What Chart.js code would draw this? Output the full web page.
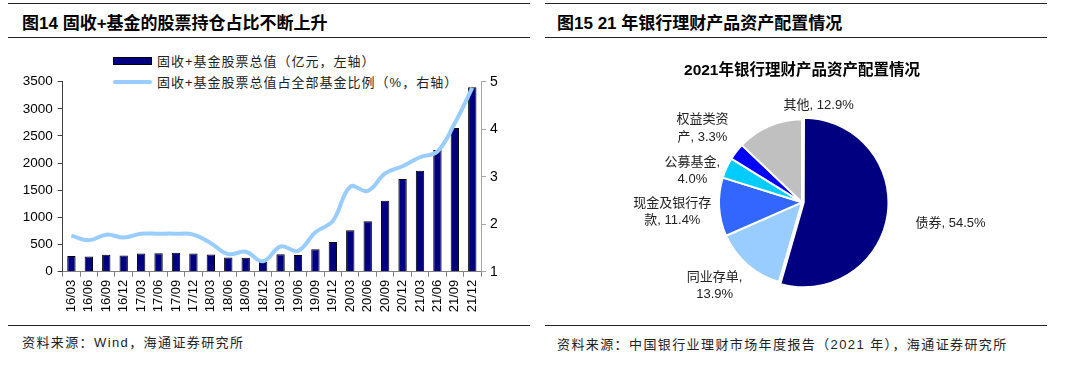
<!DOCTYPE html>
<html>
<head>
<meta charset="utf-8">
<script src="https://cdn.jsdelivr.net/npm/chart.js@4.4.1/dist/chart.umd.min.js"></script>
<style>
  body { margin: 0; width: 1080px; height: 369px; background: #fff; position: relative; overflow: hidden;
         font-family: "Liberation Sans", "Noto Sans CJK SC", sans-serif; color: #000; }
  .rule { position: absolute; height: 0; border-top: 1.5px solid #222; }
  .head { position: absolute; top: 9px; font-size: 17px; font-weight: bold; white-space: nowrap; }
  .src { position: absolute; font-size: 13px; color: #222; white-space: nowrap; letter-spacing: 1.4px; }
  .legend { position: absolute; left: 113px; top: 50px; font-size: 13px; color: #222; letter-spacing: 1px; }
  .legend div { height: 21px; display: flex; align-items: center; white-space: nowrap; }
  .legend span.sw { display: inline-block; width: 39px; margin-right: 5px; box-sizing: border-box; }
  canvas { position: absolute; }
</style>
</head>
<body>

<div class="rule" style="left:8px; top:3px; width:522px;"></div>
<div class="head" style="left:22px;">图14 固收+基金的股票持仓占比不断上升</div>
<div class="rule" style="left:8px; top:37px; width:522px;"></div>

<div class="rule" style="left:545px; top:3px; width:502px;"></div>
<div class="head" style="left:557px;">图15 21 年银行理财产品资产配置情况</div>
<div class="rule" style="left:545px; top:37px; width:502px;"></div>

<div class="legend" id="legend"></div>
<canvas id="barChart" width="530" height="285" style="left:0; top:40px;"></canvas>
<canvas id="pieChart" width="540" height="280" style="left:540px; top:40px;"></canvas>

<div class="rule" style="left:8px; top:325px; width:522px; border-top-width:1px;"></div>
<div class="src" style="left:22px; top:332px;">资料来源：Wind，海通证券研究所</div>
<div class="rule" style="left:545px; top:325px; width:502px; border-top-width:1px;"></div>
<div class="src" style="left:557px; top:334px;">资料来源：中国银行业理财市场年度报告（2021 年），海通证券研究所</div>

<script>
"use strict"

// Data

const quarters = ['16/03', '16/06', '16/09', '16/12', '17/03', '17/06', '17/09', '17/12',
                  '18/03', '18/06', '18/09', '18/12', '19/03', '19/06', '19/09', '19/12',
                  '20/03', '20/06', '20/09', '20/12', '21/03', '21/06', '21/09', '21/12'];
const stockValue = [290, 280, 310, 298, 335, 338, 350, 336, 318, 262, 255, 180,
                    320, 308, 412, 547, 762, 928, 1308, 1707, 1860, 2241, 2646, 3396];
const stockShare = [1.76, 1.66, 1.78, 1.72, 1.80, 1.80, 1.80, 1.78, 1.60, 1.37, 1.42, 1.22,
                    1.53, 1.44, 1.83, 2.07, 2.79, 2.70, 3.07, 3.22, 3.41, 3.53, 4.13, 4.87];
const barLabel = '固收+基金股票总值（亿元，左轴）';
const lineLabel = '固收+基金股票总值占全部基金比例（%，右轴）';

const assetNames = ['债券', '同业存单', '现金及银行存款', '公募基金', '权益类资产', '其他'];
const assetShare = [54.5, 13.9, 11.4, 4.0, 3.3, 12.9];
const assetColors = ['#000080', '#99CCFF', '#3366FF', '#00CCFF', '#0000FF', '#C0C0C0'];

const FONT = '"Liberation Sans", "Noto Sans CJK SC", sans-serif';


// Legend (left chart)

document.getElementById('legend').innerHTML =
    `<div><span class="sw" style="height:8px;background:#000080;border:1px solid #000"></span>${barLabel}</div>` +
    `<div><span class="sw" style="height:4px;background:#99CCFF;border-radius:2px"></span>${lineLabel}</div>`;


// Bar + Line chart

const barCtx = document.getElementById('barChart').getContext('2d');

const barChart = new Chart(barCtx, {
    data: {
        labels: quarters,
        datasets: [
            {
                type: 'bar',
                label: barLabel,
                data: stockValue,
                backgroundColor: '#000080',
                borderColor: '#000',
                borderWidth: 1,
                barPercentage: 0.48,
                categoryPercentage: 1,
                yAxisID: 'y',
                order: 1,
            },
            {
                type: 'line',
                label: lineLabel,
                data: stockShare,
                borderColor: '#99CCFF',
                borderWidth: 4,
                tension: 0.4,
                pointRadius: 0,
                yAxisID: 'y1',
                order: 0,
            }
        ],
    },
    options: {
        responsive: false,
        animation: false,
        layout: { padding: { top: 41.7, left: 0, right: 0, bottom: 0 } },
        plugins: {
            legend: { display: false },
            tooltip: { enabled: false },
        },
        scales: {
            x: {
                offset: true,
                grid: { display: true, drawOnChartArea: false, offset: true, tickLength: 5, color: '#808080' },
                border: { color: '#808080' },
                ticks: { minRotation: 90, maxRotation: 90, autoSkip: false, padding: 3,
                         color: '#000', font: { family: FONT, size: 13 } },
                afterFit(scale) { scale.height = 53.3; },
            },
            y: {
                position: 'left',
                min: 0,
                max: 3500,
                grid: { drawOnChartArea: false, tickLength: 5, color: '#404040' },
                border: { color: '#404040' },
                ticks: { stepSize: 500, padding: 5, color: '#000', font: { family: FONT, size: 13.5 },
                         callback: (v) => String(v) },
                afterFit(scale) { scale.width = 62.7; },
            },
            y1: {
                position: 'right',
                min: 1,
                max: 5,
                grid: { drawOnChartArea: false, tickLength: 5, color: '#a6a6a6' },
                border: { color: '#a6a6a6' },
                ticks: { stepSize: 1, padding: 4, color: '#000', font: { family: FONT, size: 14 } },
                afterFit(scale) { scale.width = 49; },
            }
        }
    }
});


// Pie chart

// label placement: distance from centre, turn (deg) off the mid angle, wrap position
const labelDist = [150, 121, 130, 114, 124, 98];
const labelTurn = [0, 5, -1, -8.5, -1, 33];
const labelWrap = [0, 5, 6, 5, 4, 0];

const pieLabels = {
    id: 'pieLabels',
    afterDatasetsDraw(chart) {
        const ctx = chart.ctx;
        const arcs = chart.getDatasetMeta(0).data;
        ctx.save();
        ctx.font = `13px ${FONT}`;
        ctx.fillStyle = '#222';
        ctx.textAlign = 'center';
        ctx.textBaseline = 'middle';
        arcs.forEach((arc, i) => {
            const p = arc.getProps(['x', 'y', 'startAngle', 'endAngle']);
            const mid = (p.startAngle + p.endAngle) / 2 + labelTurn[i] * Math.PI / 180;
            const lx = p.x + Math.cos(mid) * labelDist[i];
            const ly = p.y + Math.sin(mid) * labelDist[i];
            const text = `${assetNames[i]}, ${assetShare[i].toFixed(1)}%`;
            const lines = labelWrap[i] ? [text.slice(0, labelWrap[i]), text.slice(labelWrap[i]).trim()] : [text];
            const lh = 17.4;
            lines.forEach((line, k) => {
                ctx.fillText(line, lx, ly + (k - (lines.length - 1) / 2) * lh);
            });
        });
        ctx.restore();
    }
};

const pieCtx = document.getElementById('pieChart').getContext('2d');

const pieChart = new Chart(pieCtx, {
    type: 'pie',
    data: {
        labels: assetNames,
        datasets: [{
            data: assetShare,
            backgroundColor: assetColors,
            borderColor: '#fff',
            borderWidth: 2,
            offset: [7, 0, 0, 0, 0, 0],
        }]
    },
    options: {
        responsive: false,
        animation: false,
        radius: 83,
        layout: { padding: { top: 0, left: 0, right: 16, bottom: 0 } },
        plugins: {
            legend: { display: false },
            tooltip: { enabled: false },
            title: {
                display: true,
                text: '2021年银行理财产品资产配置情况',
                color: '#000',
                font: { family: FONT, size: 15.5, weight: 'bold' },
                padding: { top: 21, bottom: 5 },
            }
        }
    },
    plugins: [pieLabels]
});
</script>
</body>
</html>
